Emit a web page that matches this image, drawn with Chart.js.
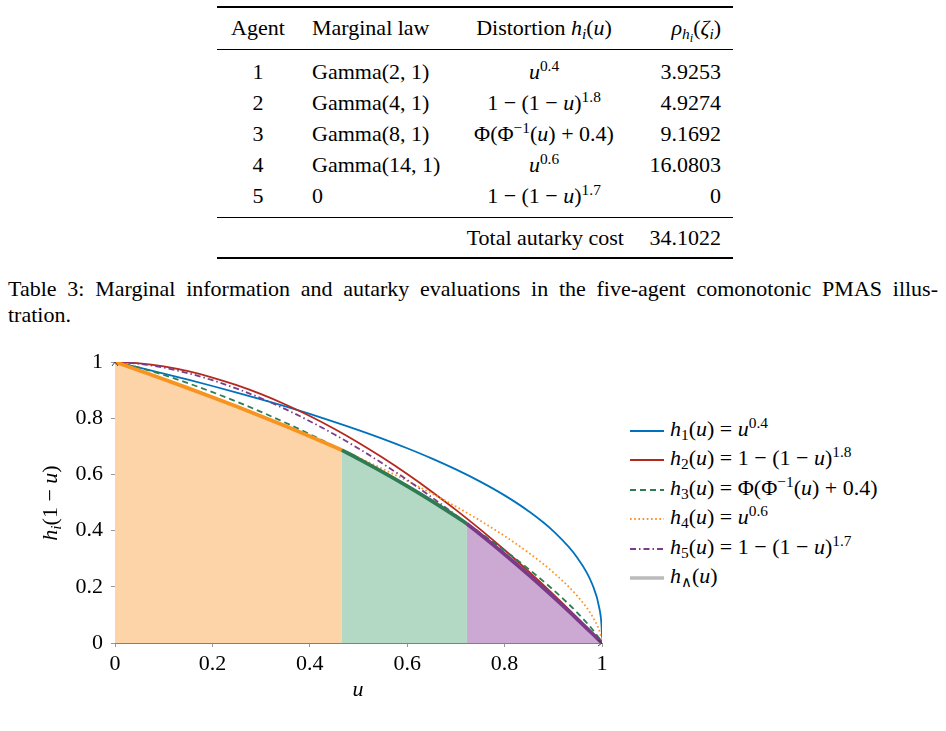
<!DOCTYPE html>
<html><head><meta charset="utf-8">
<script src="https://cdn.jsdelivr.net/npm/chart.js@4.4.1/dist/chart.umd.min.js"></script>
<style>
body{margin:0;background:#fff;font-size:22px;font-family:'Liberation Serif'}
.abs{position:absolute;white-space:nowrap;line-height:30px;height:30px;font-size:22px;font-family:'Liberation Serif'}
.rule{position:absolute;left:217px;width:516px;background:#000;}
sup{font-size:0.7em;vertical-align:0.5em;line-height:0;}
sub{font-size:0.7em;vertical-align:-0.25em;line-height:0;}
#caption{position:absolute;left:8px;top:276px;width:930px;font-size:22px;line-height:26px;font-family:'Liberation Serif'}
#caption .l1{text-align:justify;text-align-last:justify;width:930px;white-space:nowrap;}
#legend{position:absolute;left:630px;top:414px;font-size:22px;font-family:'Liberation Serif'}
#legend .row{height:29.4px;line-height:29.4px;white-space:nowrap;}
#legend svg{vertical-align:middle;margin-right:6px;}
</style></head>
<body>
<div class="rule" style="top:6px;height:1.6px"></div>
<div class="rule" style="top:48.5px;height:0.9px"></div>
<div class="rule" style="top:216.5px;height:0.9px"></div>
<div class="rule" style="top:257px;height:1.6px"></div>
<div id="tbl"></div>
<div id="caption"><div class="l1">Table 3: Marginal information and autarky evaluations in the five-agent comonotonic PMAS illus-</div><div>tration.</div></div>
<canvas id="c" width="620" height="380" style="position:absolute;left:0;top:340px"></canvas>
<div class="abs" style="left:10px;top:488px;width:80px;text-align:center;transform:rotate(-90deg);"><i>h</i><sub><i>i</i></sub>(1 − <i>u</i>)</div>
<div class="abs" style="left:340px;top:674px;width:36px;text-align:center;"><i>u</i></div>
<div id="legend"></div>
<script>
// ---------- table content ----------
const agents = ['1','2','3','4','5'];
const laws = ['Gamma(2, 1)','Gamma(4, 1)','Gamma(8, 1)','Gamma(14, 1)','0'];
const distortions = ['<i>u</i><sup>0.4</sup>','1 − (1 − <i>u</i>)<sup>1.8</sup>','Φ(Φ<sup>−1</sup>(<i>u</i>) + 0.4)','<i>u</i><sup>0.6</sup>','1 − (1 − <i>u</i>)<sup>1.7</sup>'];
const rhoValues = ['3.9253','4.9274','9.1692','16.0803','0'];
const totalCost = '34.1022';

// ---------- chart data ----------
const U = [0,0.05,0.1,0.15,0.2,0.25,0.3,0.35,0.4,0.45,0.5,0.55,0.6,0.65,0.7,0.75,0.8,0.85,0.9,0.95,0.98,0.995,0.999,1];
const h1 = [1,0.9797,0.9587,0.9371,0.9146,0.8913,0.8670,0.8417,0.8152,0.7873,0.7579,0.7266,0.6931,0.6571,0.6178,0.5743,0.5253,0.4682,0.3981,0.3017,0.2091,0.1201,0.0631,0.02];
const h2 = [1,0.9954,0.9842,0.9671,0.9448,0.9175,0.8855,0.8489,0.8078,0.7624,0.7128,0.6591,0.6013,0.5395,0.4738,0.4042,0.3308,0.2536,0.1728,0.0882,0.0357,0.0090,0.0018,0];
const h3 = [1,0.9796,0.9537,0.9246,0.8928,0.8587,0.8224,0.7839,0.7432,0.7004,0.6554,0.6081,0.5583,0.5059,0.4505,0.3919,0.3294,0.2623,0.1890,0.1066,0.0491,0.0148,0.0036,0];
const h4 = [1,0.9697,0.9387,0.9071,0.8747,0.8415,0.8073,0.7722,0.7360,0.6986,0.6598,0.6193,0.5771,0.5327,0.4856,0.4353,0.3807,0.3204,0.2512,0.1657,0.0956,0.0416,0.0159,0.01];
const h5 = [1,0.9939,0.9800,0.9603,0.9352,0.9053,0.8709,0.8321,0.7894,0.7427,0.6922,0.6381,0.5804,0.5192,0.4547,0.3868,0.3157,0.2414,0.1640,0.0835,0.0338,0.0085,0.0017,0];
// lower envelope pieces
const envU1 = [0,0.05,0.1,0.15,0.2,0.25,0.3,0.35,0.4,0.45,0.466];
const envH1 = [1,0.9697,0.9387,0.9071,0.8747,0.8415,0.8073,0.7722,0.7360,0.6986,0.6863];
const envU2 = [0.466,0.5,0.55,0.6,0.65,0.7,0.7226];
const envH2 = [0.6863,0.6554,0.6081,0.5583,0.5059,0.4505,0.4244];
const envU3 = [0.7226,0.75,0.8,0.85,0.9,0.95,0.98,0.995,1];
const envH3 = [0.4244,0.3868,0.3157,0.2414,0.1640,0.0835,0.0338,0.0085,0];
const tickLabels = ['0','0.2','0.4','0.6','0.8','1'];
const legendLabels = [
 '<i>h</i><sub>1</sub>(<i>u</i>) = <i>u</i><sup>0.4</sup>',
 '<i>h</i><sub>2</sub>(<i>u</i>) = 1 − (1 − <i>u</i>)<sup>1.8</sup>',
 '<i>h</i><sub>3</sub>(<i>u</i>) = Φ(Φ<sup>−1</sup>(<i>u</i>) + 0.4)',
 '<i>h</i><sub>4</sub>(<i>u</i>) = <i>u</i><sup>0.6</sup>',
 '<i>h</i><sub>5</sub>(<i>u</i>) = 1 − (1 − <i>u</i>)<sup>1.7</sup>',
 '<i>h</i><sub>∧</sub>(<i>u</i>)'
];

// ---------- build table ----------
const tbl = document.getElementById('tbl');
function cell(html, left, width, top, align){
  const d = document.createElement('div');
  d.className='abs';
  d.style.left=left+'px'; d.style.width=width+'px'; d.style.top=top+'px'; d.style.textAlign=align;
  d.innerHTML=html; tbl.appendChild(d);
}
const hdrTop = 13;
cell('Agent',217,82,hdrTop,'center');
cell('Marginal law',312,150,hdrTop,'left');
cell('Distortion <i>h</i><sub><i>i</i></sub>(<i>u</i>)',455,178,hdrTop,'center');
cell('<i>ρ</i><sub><i>h</i><sub style="font-size:0.8em"><i>i</i></sub></sub>(<i>ζ</i><sub><i>i</i></sub>)',633,88,hdrTop,'right');
const rowCenters = [72,103,134,165,196];
agents.forEach((a,i)=>{
  const t = rowCenters[i]-15;
  cell(a,217,82,t,'center');
  cell(laws[i],312,150,t,'left');
  cell(distortions[i],455,178,t,'center');
  cell(rhoValues[i],620,101,t,'right');
});
cell('Total autarky cost',420,204,223,'right');
cell(totalCost,620,101,223,'right');

// ---------- legend ----------
const colors = {blue:'#0072BD', red:'#B5281C', green:'#2C7D52', orange:'#FF8F1F', purple:'#7E3A8C', grey:'#BBBBBB'};
const legendStyles = [
  {c:colors.blue,w:1.8,d:''},
  {c:colors.red,w:1.8,d:''},
  {c:colors.green,w:1.8,d:'6,4'},
  {c:colors.orange,w:1.8,d:'1.6,2.6'},
  {c:colors.purple,w:1.8,d:'6,3,1.5,3'},
  {c:colors.grey,w:3.5,d:''}
];
const lg = document.getElementById('legend');
legendLabels.forEach((l,i)=>{
  const s = legendStyles[i];
  const r = document.createElement('div'); r.className='row';
  r.innerHTML = '<svg width="34" height="10"><line x1="0" y1="5" x2="34" y2="5" stroke="'+s.c+'" stroke-width="'+s.w+'" '+(s.d?'stroke-dasharray="'+s.d+'"':'')+'/></svg>'+l;
  lg.appendChild(r);
});

// ---------- chart ----------
const pts = (xs, ys) => xs.map((x,i)=>({x:x, y:ys[i]}));
const arrowPlugin = {
  id:'arrows',
  afterDraw(chart){
    const {ctx, chartArea:a} = chart;
    ctx.save(); ctx.strokeStyle='#333'; ctx.lineWidth=0.9;
    ctx.beginPath(); ctx.moveTo(a.right-4,a.bottom-3); ctx.lineTo(a.right,a.bottom); ctx.lineTo(a.right-4,a.bottom+3); ctx.stroke();
    ctx.beginPath(); ctx.moveTo(a.left-3,a.top+4); ctx.lineTo(a.left,a.top); ctx.lineTo(a.left+3,a.top+4); ctx.stroke();
    ctx.restore();
  }
};
const mk = (data, color, width, dash, extra) => Object.assign({
  data, borderColor:color, borderWidth:width, borderDash:dash||[], pointRadius:0,
  fill:false, cubicInterpolationMode:'monotone', borderCapStyle:'butt'
}, extra||{});
Chart.defaults.font.family = 'Liberation Serif';
const tickFont = {family:'Liberation Serif', size:22};
new Chart(document.getElementById('c'), {
  type:'line',
  data:{datasets:[
    mk(pts(envU3,envH3), '#7B3A87', 3.8, [], {fill:'origin', backgroundColor:'#CBA9D2'}),
    mk(pts(envU2,envH2), '#2E7B54', 3.8, [], {fill:'origin', backgroundColor:'#B3D9C5'}),
    mk(pts(envU1,envH1), '#F7931E', 3.8, [], {fill:'origin', backgroundColor:'#FDD4A7'}),
    mk(pts(U,h5), colors.purple, 1.8, [6,3,1.5,3]),
    mk(pts(U,h4), colors.orange, 1.8, [1.6,2.6]),
    mk(pts(U,h3), colors.green, 1.8, [6,4]),
    mk(pts(U,h2), colors.red, 1.8),
    mk(pts(U,h1), colors.blue, 1.8)
  ]},
  options:{
    responsive:false, animation:false, devicePixelRatio:1,
    layout:{padding:{left:0,right:18,top:22,bottom:0}},
    plugins:{legend:{display:false}, tooltip:{enabled:false}, filler:{drawTime:'beforeDatasetsDraw'}},
    scales:{
      x:{type:'linear',min:0,max:1,
        ticks:{stepSize:0.2,color:'#000',font:tickFont,padding:4,maxRotation:0,
          callback:(v)=>{const k=Math.round(v*5);return tickLabels[k]??'';}},
        grid:{drawOnChartArea:false,tickLength:4,color:'#999'},
        border:{color:'#808080',width:1},
        afterFit:(s)=>{s.height=77;}},
      y:{type:'linear',min:0,max:1,
        ticks:{stepSize:0.2,color:'#000',font:tickFont,padding:8,
          callback:(v)=>{const k=Math.round(v*5);return tickLabels[k]??'';}},
        grid:{drawOnChartArea:false,tickLength:4,color:'#999'},
        border:{color:'#808080',width:1},
        afterFit:(s)=>{s.width=115;}}
    }
  },
  plugins:[arrowPlugin]
});
</script>
</body></html>
